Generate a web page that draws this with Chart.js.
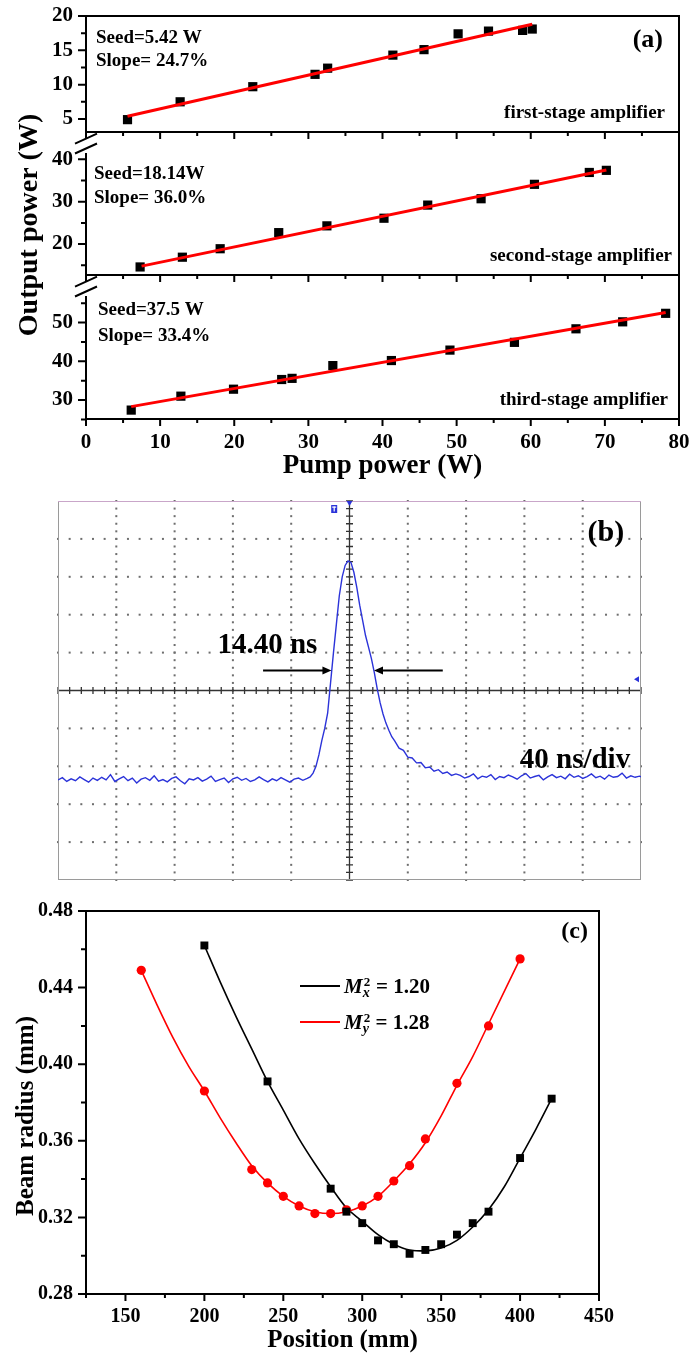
<!DOCTYPE html>
<html>
<head>
<meta charset="utf-8">
<title>Amplifier output, pulse shape and beam quality</title>
<script src="https://cdn.jsdelivr.net/npm/chart.js@4.4.1/dist/chart.umd.min.js"></script>
<style>
  html, body { margin: 0; padding: 0; background: #fff; }
  #page { position: relative; width: 689px; height: 1354px; overflow: hidden; background: #fff; }
  .box { position: absolute; left: 0; width: 689px; }
</style>
</head>
<body>
<div id="page">
  <div class="box" style="top:0;height:490px"><canvas id="a1"></canvas></div>
  <div class="box" style="top:0;height:490px"><canvas id="a2"></canvas></div>
  <div class="box" style="top:0;height:490px"><canvas id="a3"></canvas></div>
  <div class="box" style="top:490px;height:405px"><canvas id="b"></canvas></div>
  <div class="box" style="top:895px;height:459px"><canvas id="c"></canvas></div>
</div>
<script>
// ================= DATA =================
// ---- Panel (a): output power vs pump power ----
const pumpTickLabels = [0, 10, 20, 30, 40, 50, 60, 70, 80];
const pumpMinorTicks = [5, 15, 25, 35, 45, 55, 65, 75];
const pumpRange = [0, 80];

const stage1Pump = [5.6, 12.7, 22.5, 30.9, 32.6, 41.4, 45.6, 50.2, 54.3, 58.9, 60.2];
const stage1Output = [4.9, 7.5, 9.7, 11.5, 12.4, 14.3, 15.1, 17.4, 17.8, 17.9, 18.1];
const stage1FitPump = [5.6, 60.2];
const stage1FitOutput = [5.4, 18.8];
const stage1Range = [3.1, 20];
const stage1Ticks = [5, 10, 15, 20];
const stage1MinorTicks = [7.5, 12.5, 17.5];
const stage1Notes = ['Seed=5.42 W', 'Slope= 24.7%', 'first-stage amplifier'];

const stage2Pump = [7.3, 13.0, 18.1, 26.0, 32.5, 40.2, 46.1, 53.3, 60.5, 67.9, 70.2];
const stage2Output = [14.6, 16.9, 18.9, 22.7, 24.3, 26.1, 29.2, 30.7, 34.1, 36.9, 37.4];
const stage2FitPump = [7.5, 70.2];
const stage2FitOutput = [14.8, 37.5];
const stage2Range = [12.7, 46.45];
const stage2Ticks = [20, 30, 40];
const stage2MinorTicks = [15, 25, 35, 45];
const stage2Notes = ['Seed=18.14W', 'Slope= 36.0%', 'second-stage amplifier'];

const stage3Pump = [6.1, 12.8, 19.9, 26.4, 27.8, 33.3, 41.2, 49.1, 57.8, 66.1, 72.4, 78.2];
const stage3Output = [27.4, 31.0, 32.8, 35.3, 35.6, 38.9, 40.2, 42.9, 44.9, 48.4, 50.2, 52.4];
const stage3FitPump = [6.1, 78.2];
const stage3FitOutput = [28.3, 52.6];
const stage3Range = [25.1, 62.3];
const stage3Ticks = [30, 40, 50];
const stage3MinorTicks = [25, 35, 45, 55];
const stage3Notes = ['Seed=37.5 W', 'Slope= 33.4%', 'third-stage amplifier'];

// ---- Panel (b): oscilloscope pulse trace (time in ns, level in divisions) ----
const scopeTimeRange = [-200, 200];
const scopeLevelRange = [-5, 5];
const scopeStepNs = 3;
const scopeLeftStartNs = -200;
const scopeLeftLevels = [
  -2.36,-2.30,-2.40,-2.33,-2.38,-2.28,-2.35,-2.42,-2.31,-2.37,
  -2.29,-2.36,-2.22,-2.40,-2.33,-2.27,-2.38,-2.31,-2.44,-2.34,
  -2.30,-2.37,-2.25,-2.39,-2.35,-2.41,-2.32,-2.28,-2.38,-2.46,
  -2.33,-2.36,-2.30,-2.39,-2.34,-2.26,-2.40,-2.35,-2.31,-2.43,
  -2.33,-2.29,-2.37,-2.32,-2.40,-2.36,-2.28,-2.35,-2.41,-2.33,
  -2.38,-2.30,-2.36,-2.42,-2.34,-2.31,-2.37];
const scopePulseNs = [-29,-27,-25,-23,-21,-19,-17,-15,-13,-11,-9,-7,-5,-3,-1,1,3,5,7,9,11,13,15,17,
  19,21,23,25,27,29,
  31,34,37,40,43,46,49,52,55,58,61,64,67,70,73];
const scopePulseLevels = [
  -2.32,-2.28,-2.18,-2.00,-1.70,-1.32,-1.00,-0.60,0.20,1.00,
  1.75,2.50,3.00,3.30,3.42,3.38,3.12,2.72,2.25,1.85,
  1.45,1.15,0.85,0.48,
  0.05,-0.32,-0.62,-0.86,-1.05,-1.22,
  -1.33,-1.52,-1.58,-1.76,-1.78,-1.91,-1.90,-2.04,-2.02,-2.13,
  -2.09,-2.19,-2.15,-2.24,-2.20];
const scopeRightStartNs = 76;
const scopeRightLevels = [
  -2.24,-2.31,-2.27,-2.20,-2.33,-2.26,-2.29,-2.22,-2.35,-2.27,
  -2.30,-2.23,-2.28,-2.34,-2.25,-2.19,-2.31,-2.27,-2.24,-2.36,
  -2.28,-2.22,-2.30,-2.26,-2.33,-2.21,-2.29,-2.25,-2.32,-2.27,
  -2.20,-2.30,-2.26,-2.34,-2.23,-2.29,-2.27,-2.18,-2.31,-2.25,
  -2.29,-2.26,-2.31];
const fwhmLabel = '14.40 ns';
const fwhmArrowLevel = 0.53;
const fwhmLeftArrowNs = [-59.3, -12.4];
const fwhmRightArrowNs = [64, 16.8];
const timebaseLabel = '40 ns/div';

// ---- Panel (c): beam radius vs position ----
const positionTicks = [150, 200, 250, 300, 350, 400, 450];
const positionMinorTicks = [125, 175, 225, 275, 325, 375, 425];
const positionRange = [125, 450];
const radiusTicks = [0.28, 0.32, 0.36, 0.40, 0.44, 0.48];
const radiusMinorTicks = [0.30, 0.34, 0.38, 0.42, 0.46];
const radiusRange = [0.28, 0.48];

const beamPosX = [200, 240, 280, 290, 300, 310, 320, 330, 340, 350, 360, 370, 380, 400, 420];
const beamRadiusX = [0.462, 0.391, 0.335, 0.323, 0.317, 0.308, 0.306, 0.301, 0.303, 0.306, 0.311, 0.317, 0.323, 0.351, 0.382];
const beamPosY = [160, 200, 230, 240, 250, 260, 270, 280, 290, 300, 310, 320, 330, 340, 360, 380, 400];
const beamRadiusY = [0.449, 0.386, 0.345, 0.338, 0.331, 0.326, 0.322, 0.322, 0.324, 0.326, 0.331, 0.339, 0.347, 0.361, 0.390, 0.420, 0.455];

const fitPosX = [200,210,220,230,240,250,260,270,280,290,300,310,320,330,340,350,360,370,380,390,400,410,420];
const fitRadiusX = [0.462,0.443,0.425,0.408,0.391,0.376,0.361,0.348,0.336,0.325,0.318,0.311,0.306,0.303,0.3025,0.304,0.308,0.315,0.324,0.336,0.351,0.366,0.382];
const fitPosY = [160,170,180,190,200,210,220,230,240,250,260,270,280,290,300,310,320,330,340,350,360,370,380,390,400];
const fitRadiusY = [0.449,0.431,0.414,0.399,0.386,0.372,0.359,0.347,0.338,0.331,0.326,0.323,0.322,0.323,0.326,0.331,0.339,0.348,0.359,0.373,0.389,0.404,0.421,0.438,0.455];
const beamQuality = [1.20, 1.28];
const beamQualityAxes = ['x', 'y'];

// ================= STYLE / HELPERS =================
const FONT = "'Liberation Serif','Times New Roman',serif";
const bold = s => `bold ${s}px ${FONT}`;
Chart.defaults.font.family = FONT;
Chart.defaults.font.weight = 'bold';
Chart.defaults.color = '#000';
Chart.defaults.animation = false;
Chart.defaults.events = [];
Chart.defaults.plugins.legend.display = false;
Chart.defaults.plugins.tooltip.enabled = false;

const pairs = (xs, ys) => xs.map((x, i) => ({ x, y: ys[i] }));

function frameDeco(cfg) {
  return {
    id: 'frameDeco',
    afterDatasetsDraw(chart) {
      const { ctx, chartArea: a, scales: { x, y } } = chart;
      const gap = cfg.breakGap || 0;
      ctx.save();
      ctx.strokeStyle = '#000';
      ctx.lineWidth = 2;
      ctx.lineJoin = 'miter';
      ctx.lineCap = 'square';
      ctx.beginPath();
      ctx.moveTo(a.left, a.top);
      ctx.lineTo(a.right, a.top);
      ctx.lineTo(a.right, a.bottom);
      ctx.lineTo(a.left, a.bottom);
      ctx.lineTo(a.left, a.top + gap);
      if (!gap) ctx.closePath();
      ctx.stroke();
      ctx.lineCap = 'butt';
      ctx.beginPath();
      const tick = (vals, len, isX) => vals.forEach(v => {
        if (isX) {
          const p = x.getPixelForValue(v);
          ctx.moveTo(p, a.bottom); ctx.lineTo(p, a.bottom + len);
        } else {
          const p = y.getPixelForValue(v);
          if (p < a.top + gap - 0.5) return;
          ctx.moveTo(a.left, p); ctx.lineTo(a.left - len, p);
        }
      });
      tick(cfg.xMajor, 7, true);
      tick(cfg.xMinor, 4, true);
      tick(cfg.yMajor, 8, false);
      tick(cfg.yMinor, 5, false);
      ctx.stroke();
      if (gap) {
        ctx.beginPath();
        [0.3, 0.75].forEach(f => {
          const cy = a.top + gap * f;
          ctx.moveTo(a.left - 11, cy + 5);
          ctx.lineTo(a.left + 11, cy - 5);
        });
        ctx.stroke();
      }
      ctx.restore();
    }
  };
}

function textDeco(items) {
  return {
    id: 'textDeco',
    afterDraw(chart) {
      const { ctx, chartArea: a, scales } = chart;
      items.forEach(it => {
        let x, y;
        if (it.at) { x = scales.x.getPixelForValue(it.at[0]); y = scales.y.getPixelForValue(it.at[1]); }
        else if (it.abs) { x = it.abs[0]; y = it.abs[1]; }
        else { x = (it.right ? a.right : a.left) + it.dx; y = (it.bottom ? a.bottom : a.top) + it.dy; }
        ctx.save();
        ctx.translate(x, y);
        if (it.rot) ctx.rotate(it.rot);
        ctx.font = it.font;
        ctx.fillStyle = it.color || '#000';
        ctx.textAlign = it.align || 'left';
        ctx.textBaseline = it.base || 'middle';
        ctx.fillText(it.text, 0, 0);
        ctx.restore();
      });
    }
  };
}

// ================= PANEL (a) =================
function stageChart(id, o) {
  return new Chart(document.getElementById(id), {
    type: 'scatter',
    data: {
      datasets: [
        { data: pairs(o.fitX, o.fitY), showLine: true, borderColor: '#ff0000', borderWidth: 3,
          pointRadius: 0, borderCapStyle: 'butt' },
        { data: pairs(o.x, o.y), pointStyle: 'rect', pointRadius: 6.5,
          backgroundColor: '#000', borderColor: '#000', borderWidth: 0 }
      ]
    },
    options: {
      responsive: true, maintainAspectRatio: false,
      layout: { padding: { left: 0, right: 10, top: o.padTop, bottom: o.padBottom } },
      scales: {
        x: {
          type: 'linear', min: pumpRange[0], max: pumpRange[1],
          afterBuildTicks: s => { s.ticks = pumpTickLabels.map(v => ({ value: v })); },
          afterFit: s => { s.height = o.xHeight; s.paddingLeft = 0; s.paddingRight = 0; },
          grid: { display: false, drawTicks: false }, border: { display: false },
          ticks: { display: !!o.xLabels, padding: 11, font: { size: 21, weight: 'bold' }, color: '#000', maxRotation: 0 },
          title: o.xLabels ? { display: true, text: 'Pump power (W)', color: '#000',
            font: { size: 27, weight: 'bold', lineHeight: 1 }, padding: { top: 0, bottom: 10 } } : { display: false }
        },
        y: {
          type: 'linear', min: o.range[0], max: o.range[1],
          afterBuildTicks: s => { s.ticks = o.ticks.map(v => ({ value: v })); },
          afterFit: s => { s.width = 86; s.paddingTop = 0; s.paddingBottom = 0; },
          grid: { display: false, drawTicks: false }, border: { display: false },
          ticks: { padding: 13, font: { size: 21, weight: 'bold' }, color: '#000' }
        }
      }
    },
    plugins: [
      frameDeco({ xMajor: pumpTickLabels, xMinor: pumpMinorTicks, yMajor: o.ticks, yMinor: o.minor, breakGap: o.breakGap }),
      textDeco(o.texts)
    ]
  });
}

stageChart('a1', {
  x: stage1Pump, y: stage1Output, fitX: stage1FitPump, fitY: stage1FitOutput,
  range: stage1Range, ticks: stage1Ticks, minor: stage1MinorTicks,
  padTop: 16, padBottom: 350, xHeight: 8, breakGap: 0,
  texts: [
    { text: stage1Notes[0], dx: 10, dy: 22, font: bold(19) },
    { text: stage1Notes[1], dx: 10, dy: 45, font: bold(19) },
    { text: '(a)', right: true, dx: -16, dy: 24, align: 'right', font: bold(26) },
    { text: stage1Notes[2], right: true, bottom: true, dx: -14, dy: -19, align: 'right', font: bold(19) }
  ]
});

stageChart('a2', {
  x: stage2Pump, y: stage2Output, fitX: stage2FitPump, fitY: stage2FitOutput,
  range: stage2Range, ticks: stage2Ticks, minor: stage2MinorTicks,
  padTop: 132, padBottom: 207, xHeight: 8, breakGap: 22,
  texts: [
    { text: stage2Notes[0], dx: 8, dy: 42, font: bold(19) },
    { text: stage2Notes[1], dx: 8, dy: 66, font: bold(19) },
    { text: stage2Notes[2], right: true, bottom: true, dx: -7, dy: -19, align: 'right', font: bold(19) }
  ]
});

stageChart('a3', {
  x: stage3Pump, y: stage3Output, fitX: stage3FitPump, fitY: stage3FitOutput,
  range: stage3Range, ticks: stage3Ticks, minor: stage3MinorTicks,
  padTop: 275, padBottom: 0, xHeight: 71, breakGap: 22, xLabels: true,
  texts: [
    { text: stage3Notes[0], dx: 12, dy: 35, font: bold(19) },
    { text: stage3Notes[1], dx: 12, dy: 61, font: bold(19) },
    { text: stage3Notes[2], right: true, bottom: true, dx: -11, dy: -19, align: 'right', font: bold(19) },
    { text: 'Output power (W)', abs: [37, 225], rot: -Math.PI / 2, align: 'center', base: 'alphabetic', font: bold(28) }
  ]
});

// ================= PANEL (b) =================
const scopePoints = []
  .concat(scopeLeftLevels.map((v, i) => ({ x: scopeLeftStartNs + i * scopeStepNs, y: v })))
  .concat(pairs(scopePulseNs, scopePulseLevels))
  .concat(scopeRightLevels.map((v, i) => ({ x: scopeRightStartNs + i * scopeStepNs, y: v })));

const scopeDeco = {
  id: 'scopeDeco',
  beforeDatasetsDraw(chart) {
    const { ctx, chartArea: a, scales: { x, y } } = chart;
    ctx.save();
    // dotted graticule
    ctx.fillStyle = '#6e6e6e';
    for (let d = -4; d <= 4; d++) {
      if (d === 0) continue;
      const py = y.getPixelForValue(d);
      for (let k = 0; k <= 50; k++) {
        const px = x.getPixelForValue(scopeTimeRange[0] + k * 8);
        ctx.fillRect(px - 1, py - 1, 2, 2);
      }
    }
    for (let c = -4; c <= 4; c++) {
      if (c === 0) continue;
      const px = x.getPixelForValue(c * 40);
      for (let k = -25; k <= 25; k++) {
        const py = y.getPixelForValue(k / 5);
        ctx.fillRect(px - 1, py - 1, 2, 2);
      }
    }
    // centre cross with sub-division ticks
    const cx = x.getPixelForValue(0), cy = y.getPixelForValue(0);
    ctx.strokeStyle = '#333';
    ctx.lineWidth = 1.3;
    ctx.beginPath();
    ctx.moveTo(a.left, cy); ctx.lineTo(a.right, cy);
    ctx.moveTo(cx, a.top); ctx.lineTo(cx, a.bottom);
    for (let k = 0; k <= 50; k++) {
      const px = x.getPixelForValue(scopeTimeRange[0] + k * 8);
      ctx.moveTo(px, cy - 3.5); ctx.lineTo(px, cy + 3.5);
    }
    for (let k = -25; k <= 25; k++) {
      const py = y.getPixelForValue(k / 5);
      ctx.moveTo(cx - 3.5, py); ctx.lineTo(cx + 3.5, py);
    }
    ctx.stroke();
    // frame
    ctx.lineWidth = 1;
    ctx.strokeStyle = '#9a9a9a';
    ctx.strokeRect(a.left + 0.5, a.top + 0.5, a.right - a.left - 1, a.bottom - a.top - 1);
    ctx.strokeStyle = '#c9a6c9';
    ctx.beginPath(); ctx.moveTo(a.left, a.top + 0.5); ctx.lineTo(a.right, a.top + 0.5); ctx.stroke();
    ctx.restore();
  },
  afterDatasetsDraw(chart) {
    const { ctx, chartArea: a, scales: { x, y } } = chart;
    ctx.save();
    // FWHM arrows
    const ay = y.getPixelForValue(fwhmArrowLevel);
    ctx.strokeStyle = '#000'; ctx.fillStyle = '#000'; ctx.lineWidth = 2;
    [fwhmLeftArrowNs, fwhmRightArrowNs].forEach(([from, to]) => {
      const x0 = x.getPixelForValue(from), x1 = x.getPixelForValue(to);
      const dir = Math.sign(x1 - x0);
      ctx.beginPath(); ctx.moveTo(x0, ay); ctx.lineTo(x1 - dir * 6, ay); ctx.stroke();
      ctx.beginPath(); ctx.moveTo(x1, ay); ctx.lineTo(x1 - dir * 9, ay - 4); ctx.lineTo(x1 - dir * 9, ay + 4); ctx.closePath(); ctx.fill();
    });
    // scope markers (trigger position / level)
    ctx.fillStyle = '#2b33d9';
    const tx = x.getPixelForValue(-10.5);
    ctx.fillRect(tx - 3, a.top + 4, 6, 8);
    ctx.fillStyle = '#fff';
    ctx.fillRect(tx - 2, a.top + 5.5, 4, 1.2);
    ctx.fillRect(tx - 0.6, a.top + 5.5, 1.2, 5);
    ctx.fillStyle = '#2b33d9';
    const zx = x.getPixelForValue(0);
    ctx.beginPath(); ctx.moveTo(zx - 3, a.top); ctx.lineTo(zx + 3, a.top); ctx.lineTo(zx, a.top + 5); ctx.closePath(); ctx.fill();
    const ly = y.getPixelForValue(0.3);
    ctx.beginPath(); ctx.moveTo(a.right - 7, ly); ctx.lineTo(a.right - 2, ly - 3); ctx.lineTo(a.right - 2, ly + 3); ctx.closePath(); ctx.fill();
    ctx.restore();
  }
};

new Chart(document.getElementById('b'), {
  type: 'scatter',
  data: {
    datasets: [{ data: scopePoints, showLine: true, borderColor: '#2b33d9', borderWidth: 1.4,
      pointRadius: 0, tension: 0 }]
  },
  options: {
    responsive: true, maintainAspectRatio: false,
    layout: { padding: { left: 58, right: 48, top: 11, bottom: 15 } },
    scales: {
      x: { type: 'linear', min: scopeTimeRange[0], max: scopeTimeRange[1], display: false },
      y: { type: 'linear', min: scopeLevelRange[0], max: scopeLevelRange[1], display: false }
    }
  },
  plugins: [scopeDeco, textDeco([
    { text: fwhmLabel, at: [-56.3, 1.2], align: 'center', font: bold(29) },
    { text: timebaseLabel, at: [154.7, -1.84], align: 'center', font: bold(29) },
    { text: '(b)', at: [175.9, 4.16], align: 'center', font: bold(30) }
  ])]
});

// ================= PANEL (c) =================
const beamLegend = {
  id: 'beamLegend',
  afterDraw(chart) {
    const { ctx, chartArea: a } = chart;
    const colors = ['#000', '#ff0000'];
    const rowOffsets = [75, 111];
    beamQuality.forEach((val, i) => {
      const ly = a.top + rowOffsets[i];
      ctx.save();
      ctx.strokeStyle = colors[i]; ctx.lineWidth = 2;
      ctx.beginPath(); ctx.moveTo(a.left + 214, ly); ctx.lineTo(a.left + 254, ly); ctx.stroke();
      ctx.fillStyle = '#000';
      ctx.textBaseline = 'alphabetic'; ctx.textAlign = 'left';
      let xp = a.left + 258;
      ctx.font = `italic bold 21px ${FONT}`;
      ctx.fillText('M', xp, ly + 7);
      xp += ctx.measureText('M').width + 1;
      ctx.font = `bold 13px ${FONT}`;
      ctx.fillText('2', xp, ly);
      const w2 = ctx.measureText('2').width;
      ctx.font = `italic bold 14px ${FONT}`;
      ctx.fillText(beamQualityAxes[i], xp - 1, ly + 11);
      const ws = ctx.measureText(beamQualityAxes[i]).width;
      xp += Math.max(w2, ws);
      ctx.font = bold(21);
      ctx.fillText(' = ' + val.toFixed(2), xp, ly + 7);
      ctx.restore();
    });
  }
};

new Chart(document.getElementById('c'), {
  type: 'scatter',
  data: {
    datasets: [
      { data: pairs(beamPosX, beamRadiusX), pointStyle: 'rect', pointRadius: 5.6,
        backgroundColor: '#000', borderColor: '#000', borderWidth: 0 },
      { data: pairs(beamPosY, beamRadiusY), pointStyle: 'circle', pointRadius: 4.6,
        backgroundColor: '#ff0000', borderColor: '#ff0000', borderWidth: 0 },
      { data: pairs(fitPosX, fitRadiusX), showLine: true, borderColor: '#000', borderWidth: 1.6,
        pointRadius: 0, cubicInterpolationMode: 'monotone' },
      { data: pairs(fitPosY, fitRadiusY), showLine: true, borderColor: '#ff0000', borderWidth: 1.6,
        pointRadius: 0, cubicInterpolationMode: 'monotone' }
    ]
  },
  options: {
    responsive: true, maintainAspectRatio: false,
    layout: { padding: { left: 0, right: 90, top: 16, bottom: 0 } },
    scales: {
      x: {
        type: 'linear', min: positionRange[0], max: positionRange[1],
        afterBuildTicks: s => { s.ticks = positionTicks.map(v => ({ value: v })); },
        afterFit: s => { s.height = 60; s.paddingLeft = 0; s.paddingRight = 0; },
        grid: { display: false, drawTicks: false }, border: { display: false },
        ticks: { padding: 11, font: { size: 20, weight: 'bold' }, color: '#000', maxRotation: 0 },
        title: { display: true, text: 'Position (mm)', color: '#000',
          font: { size: 25, weight: 'bold', lineHeight: 1 }, padding: { top: 0, bottom: 1 } }
      },
      y: {
        type: 'linear', min: radiusRange[0], max: radiusRange[1],
        afterBuildTicks: s => { s.ticks = radiusTicks.map(v => ({ value: v })); },
        afterFit: s => { s.width = 86; s.paddingTop = 0; s.paddingBottom = 0; },
        grid: { display: false, drawTicks: false }, border: { display: false },
        ticks: { padding: 13, font: { size: 20, weight: 'bold' }, color: '#000',
          callback: v => Number(v).toFixed(2) }
      }
    }
  },
  plugins: [
    frameDeco({ xMajor: positionTicks, xMinor: positionMinorTicks, yMajor: radiusTicks, yMinor: radiusMinorTicks, breakGap: 0 }),
    beamLegend,
    textDeco([
      { text: '(c)', right: true, dx: -11, dy: 21, align: 'right', font: bold(24) },
      { text: 'Beam radius (mm)', abs: [33, 221], rot: -Math.PI / 2, align: 'center', base: 'alphabetic', font: bold(25) }
    ])
  ]
});
</script>
</body>
</html>
